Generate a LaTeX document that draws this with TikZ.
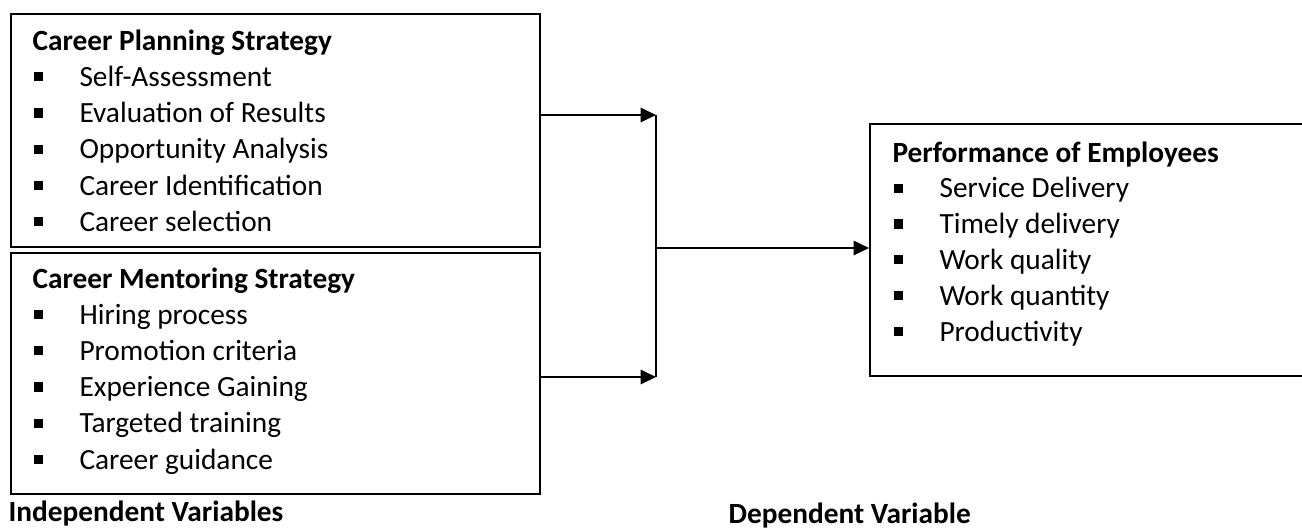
\documentclass[tikz,border=0pt]{standalone}
\usepackage{fontspec}
\setmainfont{Carlito}
\usetikzlibrary{arrows.meta}
% square list bullet followed by the indent up to the item text
\newcommand\sqbullet{\makebox[17.25pt][l]{\rule[1.9pt]{3.4pt}{3.4pt}}}
\begin{document}
\begin{tikzpicture}[x=0.375pt,y=-0.375pt,
  box/.style={draw, line width=0.75pt, inner sep=0pt, anchor=north west},
  head/.style={inner sep=0pt, anchor=base west, font=\fontsize{11pt}{13pt}\selectfont\bfseries},
  item/.style={inner sep=0pt, anchor=base west, font=\fontsize{11pt}{13pt}\selectfont},
  link/.style={line width=0.75pt},
  arr/.style={link, -{Triangle[length=5.8pt,width=5.4pt]}}]
\useasboundingbox (0,0) rectangle (1302,530);

% boxes
\node[box, minimum width=198.4pt, minimum height=87.4pt] (cp) at (10,13) {};
\node[box, minimum width=198.4pt, minimum height=90.4pt] (cm) at (10,252) {};
\node[box, minimum width=169.1pt, minimum height=94.5pt] (pe) at (869,123) {};

% Career Planning Strategy
\node[head] (cp-h) at (32,50) {Career Planning Strategy};
\foreach \t [count=\i] in {Self-Assessment, Evaluation of Results, Opportunity Analysis, Career Identification, Career selection}
  \node[item] (cp-\i) at (33,{50+36.3*\i}) {\sqbullet\t};

% Career Mentoring Strategy
\node[head] (cm-h) at (32,288) {Career Mentoring Strategy};
\foreach \t [count=\i] in {Hiring process, Promotion criteria, Experience Gaining, Targeted training, Career guidance}
  \node[item] (cm-\i) at (33,{288+36.2*\i}) {\sqbullet\t};

% Performance of Employees
\node[head] (pe-h) at (892,162) {Performance of Employees};
\foreach \t [count=\i] in {Service Delivery, Timely delivery, Work quality, Work quantity, Productivity}
  \node[item] (pe-\i) at (893,{162+35.8*\i}) {\sqbullet\t};

% captions
\node[head] (iv) at (8,521) {Independent Variables};
\node[head] (dv) at (728,523) {Dependent Variable};

% connectors
\coordinate (j1) at (656,115);
\coordinate (j2) at (656,377);
\coordinate (jm) at (656,248);
\draw[arr] (cp.east |- j1) -- (j1);
\draw[arr] (cm.east |- j2) -- (j2);
\draw[link] (j1) -- (j2);
\draw[arr] (jm) -- (pe.west |- jm);
\end{tikzpicture}
\end{document}
